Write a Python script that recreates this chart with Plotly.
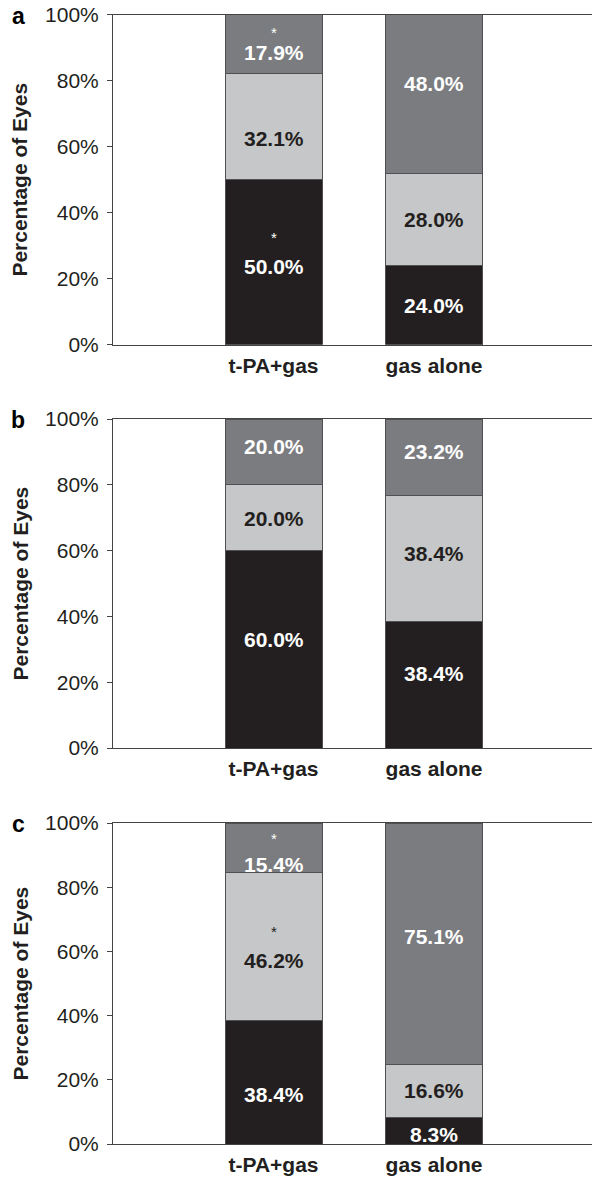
import plotly.graph_objects as go
from plotly.subplots import make_subplots

# Treatment groups on the x axis
categories = ["t-PA+gas", "gas alone"]
panel_letters = ["a", "b", "c"]

# Stacked outcome shares (%) per panel, bottom to top
dark_pct = [[50.0, 24.0], [60.0, 38.4], [38.4, 8.3]]
light_pct = [[32.1, 28.0], [20.0, 38.4], [46.2, 16.6]]
mid_pct = [[17.9, 48.0], [20.0, 23.2], [15.4, 75.1]]

# Significance markers: (panel, group, segment)
stars = [(0, 0, "mid"), (0, 0, "dark"), (2, 0, "mid"), (2, 0, "light")]

y_ticks = [0, 20, 40, 60, 80, 100]
y_tick_text = [f"{v}%" for v in y_ticks]

# Label placement (percent height) for each segment label
label_y = {
    "dark": [[23.8, 12.0], [33.1, 22.6], [15.3, 3.1]],
    "light": [[62.5, 37.8], [69.9, 59.0], [57.2, 16.6]],
    "mid": [[88.4, 79.2], [91.7, 90.1], [87.2, 64.6]],
}
star_y = {(0, 0, "mid"): 94.8, (0, 0, "dark"): 32.6,
          (2, 0, "mid"): 95.4, (2, 0, "light"): 66.4}

W, H = 592, 1178
LEFT = 113
# vertical pixel extents of each panel's plot area (top, bottom)
panel_px = [(14.5, 344.7), (419.0, 748.0), (823.0, 1144.0)]

FONT = "Liberation Sans, Arial, Helvetica, sans-serif"
INK = "#231f20"
COL = {"dark": "#231f20", "light": "#c6c7c9", "mid": "#7b7c7f"}
TXT = {"dark": "white", "light": INK, "mid": "white"}
EDGE = "#505052"

fig = make_subplots(rows=3, cols=1)

series = {"dark": dark_pct, "light": light_pct, "mid": mid_pct}
annotations = []
for p in range(3):
    r = p + 1
    xref = "x" if p == 0 else f"x{r}"
    yref = "y" if p == 0 else f"y{r}"
    for seg in ["dark", "light", "mid"]:
        vals = series[seg][p]
        fig.add_trace(go.Bar(
            x=categories, y=vals, width=0.604,
            marker=dict(color=COL[seg], line=dict(color=EDGE, width=1)),
            showlegend=False, hoverinfo="skip",
        ), row=r, col=1)
        for i, v in enumerate(vals):
            annotations.append(dict(
                x=categories[i], y=label_y[seg][p][i], xref=xref, yref=yref,
                text=f"{v:.1f}%", showarrow=False,
                font=dict(family=FONT, size=21, color=TXT[seg], weight="bold"),
                xanchor="center", yanchor="middle",
            ))
    for (sp, gi, seg) in stars:
        if sp != p:
            continue
        annotations.append(dict(
            x=categories[gi], y=star_y[(sp, gi, seg)], xref=xref, yref=yref,
            text="*", showarrow=False, height=12,
            font=dict(family=FONT, size=15, color=TXT[seg]),
            xanchor="center", yanchor="middle",
        ))

    top_px, bot_px = panel_px[p]
    dom = [1 - bot_px / H, 1 - top_px / H]
    fig.update_yaxes(
        domain=dom, range=[0, 100], tickvals=y_ticks, ticktext=y_tick_text,
        ticks="outside", ticklen=5, tickcolor="#444", tickwidth=1,
        showline=True, linecolor="#444", linewidth=1, showgrid=False,
        zeroline=False, ticklabelstandoff=4, automargin=False,
        tickfont=dict(family=FONT, size=21, color=INK),
        row=r, col=1)
    fig.update_xaxes(
        domain=[0, 1], range=[-1, 1.984], type="category",
        showline=True, mirror=True, linecolor="#444", linewidth=1,
        showgrid=False, ticks="", ticklabelstandoff=2, automargin=False,
        tickfont=dict(family=FONT, size=21, color=INK, weight="bold"),
        row=r, col=1)

    # y-axis title and panel letter
    mid_px = (top_px + bot_px) / 2
    annotations.append(dict(
        x=(20 - LEFT) / (W - LEFT), y=1 - mid_px / H, xref="paper", yref="paper",
        text="Percentage of Eyes", textangle=-90, showarrow=False,
        font=dict(family=FONT, size=21, color=INK, weight="bold"),
        xanchor="center", yanchor="middle",
    ))
    annotations.append(dict(
        x=(18 - LEFT) / (W - LEFT), y=1 - (top_px + 1) / H, xref="paper", yref="paper",
        text=panel_letters[p], showarrow=False,
        font=dict(family=FONT, size=23, color="black", weight="bold"),
        xanchor="center", yanchor="middle",
    ))

fig.update_layout(
    barmode="stack", width=W, height=H,
    margin=dict(l=LEFT, r=0, t=0, b=0, autoexpand=False),
    paper_bgcolor="white", plot_bgcolor="white",
    annotations=annotations,
    font=dict(family=FONT, color=INK),
)

fig.write_html("out.html")
